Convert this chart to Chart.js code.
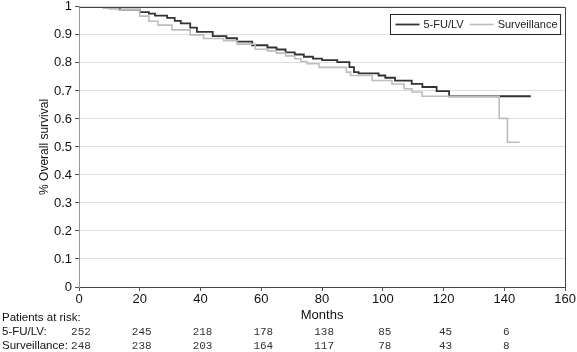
<!DOCTYPE html>
<html>
<head>
<meta charset="utf-8">
<script src="https://cdn.jsdelivr.net/npm/chart.js@4/dist/chart.umd.min.js"></script>
<style>
html,body{margin:0;padding:0;background:#fff;}
canvas{display:block;}
</style>
</head>
<body>
<canvas id="c" width="577" height="352"></canvas>
<script>
// Kaplan-Meier step data (time in months, survival proportion)
const fuTimes = [0, 10, 13.4, 20, 23, 25, 29, 31.5, 33.5, 36.6, 38.8, 44, 48.5, 52, 57, 62, 65, 68, 71, 74, 77, 80, 85, 89, 90.5, 92, 98.6, 100.8, 104, 109.5, 113, 117.7, 121.8, 148.7];
const fuSurv  = [1, 0.995, 0.99, 0.981, 0.976, 0.969, 0.961, 0.95, 0.941, 0.926, 0.911, 0.896, 0.888, 0.876, 0.863, 0.855, 0.848, 0.838, 0.83, 0.822, 0.815, 0.81, 0.803, 0.785, 0.767, 0.763, 0.755, 0.747, 0.737, 0.725, 0.714, 0.699, 0.681, 0.681];
const survTimes = [0, 8, 13, 20, 23, 26, 30.6, 36.6, 41, 47.6, 52, 58, 62, 65, 68, 71, 73, 75, 79, 88, 89.4, 96.5, 103, 107, 109.6, 112.9, 138.3, 141, 145];
const survSurv  = [1, 0.995, 0.99, 0.967, 0.949, 0.935, 0.918, 0.9, 0.887, 0.879, 0.867, 0.849, 0.843, 0.835, 0.825, 0.815, 0.805, 0.797, 0.784, 0.767, 0.755, 0.737, 0.725, 0.708, 0.696, 0.681, 0.602, 0.517, 0.517];

const seriesNames = ["5-FU/LV", "Surveillance"];
const riskTimes = [0, 20, 40, 60, 80, 100, 120, 140];
const fuRisk   = [252, 245, 218, 178, 138, 85, 45, 6];
const survRisk = [248, 238, 203, 164, 117, 78, 43, 8];
const riskLabels = ["Patients at risk:", "5-FU/LV:", "Surveillance:"];

const xLabel = "Months";
const yLabel = "% Overall survival";

const toPts = (t, s) => t.map((v, i) => ({x: v, y: s[i]}));

const SANS = "'Liberation Sans', Arial, sans-serif";
const MONO = "'Liberation Mono', 'Courier New', monospace";

const extras = {
  id: 'extras',
  afterDraw(chart) {
    const ctx = chart.ctx;
    const ca = chart.chartArea;
    const xs = chart.scales.x;
    ctx.save();
    // top and right border of plot
    ctx.strokeStyle = '#444';
    ctx.lineWidth = 1;
    ctx.beginPath();
    ctx.moveTo(Math.round(ca.left) + 0.5, Math.round(ca.top) + 0.5);
    ctx.lineTo(Math.round(ca.right) + 0.5, Math.round(ca.top) + 0.5);
    ctx.lineTo(Math.round(ca.right) + 0.5, Math.round(ca.bottom) + 0.5);
    ctx.stroke();

    // legend box
    ctx.font = '11px ' + SANS;
    const ds = chart.data.datasets;
    const sampleW = 24, gap = 4, padL = 5, padR = 3;
    let w = padL;
    ds.forEach((d, i) => {
      w += sampleW + gap + ctx.measureText(d.label).width + (i < ds.length - 1 ? gap + 2 : padR);
    });
    const bh = 20;
    const bx = Math.round(ca.right - 5 - w) + 0.5;
    const by = Math.round(ca.top + 7) + 0.5;
    ctx.fillStyle = '#fff';
    ctx.fillRect(bx, by, w, bh);
    ctx.strokeStyle = '#222';
    ctx.lineWidth = 1;
    ctx.strokeRect(bx, by, w, bh);
    let cx = bx + padL;
    const cy = by + bh / 2;
    ds.forEach((d, i) => {
      ctx.strokeStyle = d.borderColor;
      ctx.lineWidth = d.borderWidth;
      ctx.beginPath();
      ctx.moveTo(cx, cy);
      ctx.lineTo(cx + sampleW, cy);
      ctx.stroke();
      cx += sampleW + gap;
      ctx.fillStyle = '#222';
      ctx.textBaseline = 'middle';
      ctx.textAlign = 'left';
      ctx.fillText(d.label, cx, cy + 0.5);
      cx += ctx.measureText(d.label).width + gap + 2;
    });

    // patients at risk table
    ctx.fillStyle = '#111';
    ctx.textAlign = 'left';
    ctx.textBaseline = 'middle';
    ctx.font = '11.5px ' + SANS;
    const rowY = [318, 332, 346];
    riskLabels.forEach((t, i) => ctx.fillText(t, 2, rowY[i]));
    ctx.font = '11px ' + MONO;
    ctx.fillStyle = '#333';
    ctx.textAlign = 'center';
    riskTimes.forEach((t, i) => {
      const px = xs.getPixelForValue(t) + 2;
      ctx.fillText(String(fuRisk[i]), px, rowY[1]);
      ctx.fillText(String(survRisk[i]), px, rowY[2]);
    });
    ctx.restore();
  }
};

new Chart(document.getElementById('c'), {
  type: 'line',
  data: {
    datasets: [
      {
        label: seriesNames[0],
        data: toPts(fuTimes, fuSurv),
        borderColor: '#333333',
        borderWidth: 1.8,
        stepped: true,
        pointRadius: 0,
        fill: false,
        order: 1
      },
      {
        label: seriesNames[1],
        data: toPts(survTimes, survSurv),
        borderColor: '#bdbdbd',
        borderWidth: 1.6,
        stepped: true,
        pointRadius: 0,
        fill: false,
        order: 0
      }
    ]
  },
  options: {
    responsive: false,
    animation: false,
    devicePixelRatio: 1,
    layout: {padding: {top: 4, right: 10, left: 0, bottom: 0}},
    plugins: {legend: {display: false}, tooltip: {enabled: false}},
    scales: {
      x: {
        type: 'linear',
        min: 0, max: 160,
        ticks: {stepSize: 20, font: {size: 13, family: SANS}, color: '#111', padding: 1, maxRotation: 0},
        grid: {drawOnChartArea: false, tickLength: 4, tickColor: '#555'},
        border: {color: '#444', width: 1},
        title: {display: true, text: xLabel, font: {size: 13, family: SANS}, color: '#111', padding: {top: 0, bottom: 29}},
        afterFit(s) { s.height = 65; }
      },
      y: {
        min: 0, max: 1,
        ticks: {stepSize: 0.1, font: {size: 13, family: SANS, lineHeight: 0.6}, color: '#111', padding: 3,
          callback: v => String(Number(v.toFixed(1)))},
        grid: {color: '#dddddd', tickLength: 4, tickColor: '#555'},
        border: {color: '#999', width: 1},
        title: {display: true, text: yLabel, font: {size: 12, family: SANS}, color: '#111', padding: {top: 37, bottom: 0}},
        afterFit(s) { s.width = 79; }
      }
    }
  },
  plugins: [extras]
});
</script>
</body>
</html>
